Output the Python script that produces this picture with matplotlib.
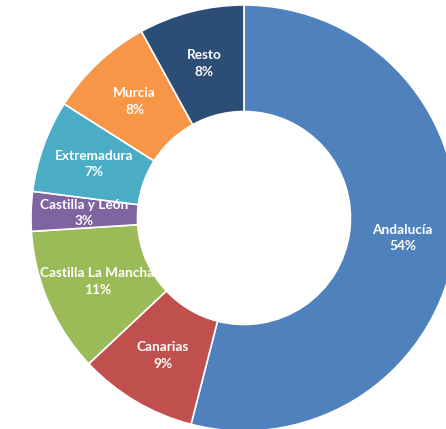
import matplotlib
import matplotlib.pyplot as plt

matplotlib.use('Agg')

regions = ['Andalucía', 'Canarias', 'Castilla La Mancha', 'Castilla y León',
           'Extremadura', 'Murcia', 'Resto']
shares = [54, 9, 11, 3, 7, 8, 8]
colors = ['#4F81BD', '#C0504D', '#9BBB59', '#8064A2',
          '#4BACC6', '#F79646', '#2C4D75']

fig = plt.figure(figsize=(4.46, 4.29), dpi=100)
ax = fig.add_axes([31/446, -2/429, 426/446, 426/429])

labels = ['%s\n%d%%' % (r, s) for r, s in zip(regions, shares)]
wedges, texts = ax.pie(shares, colors=colors, labels=labels, startangle=90,
                       counterclock=False, radius=1, labeldistance=0.75,
                       wedgeprops=dict(width=0.5, edgecolor='white', linewidth=1.2),
                       textprops=dict(color='white', fontsize=9.8,
                                      fontweight='bold', family='Lato'))
for t in texts:
    t.set_ha('center')
    t.set_va('center')
    t.set_linespacing(1.45)

ax.set_xlim(-1, 1)
ax.set_ylim(-1, 1)
fig.savefig('out.png', dpi=100)
plt.close(fig)
